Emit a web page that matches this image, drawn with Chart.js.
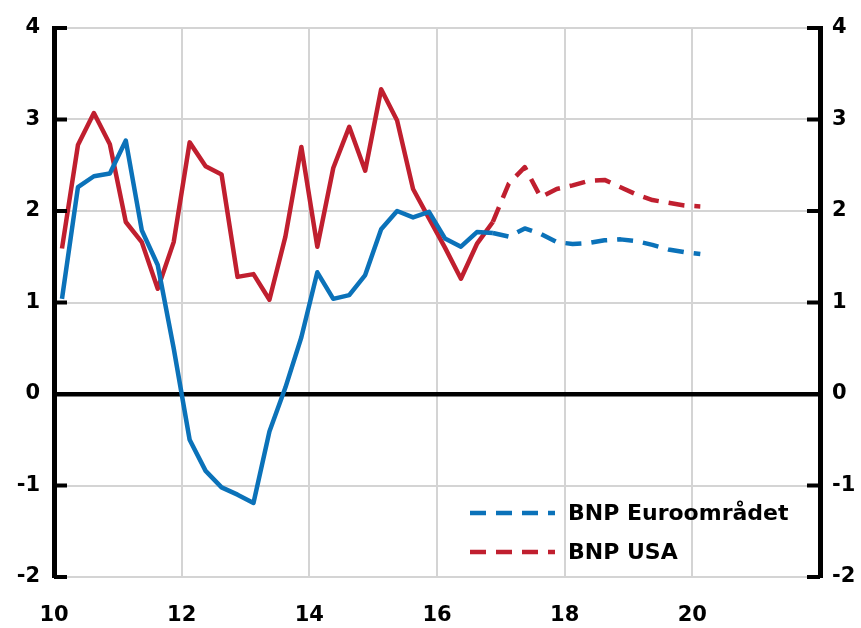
<!DOCTYPE html>
<html>
<head>
<meta charset="utf-8">
<script src="https://cdn.jsdelivr.net/npm/chart.js@4.4.1/dist/chart.umd.min.js"></script>
<style>
  html, body { margin: 0; padding: 0; background: #fff; }
  #wrap { width: 861px; height: 628px; }
</style>
</head>
<body>
<div id="wrap"><canvas id="bnp" width="861" height="628"></canvas></div>
<script>
// BNP-tillväxt per kvartal, årlig procentuell förändring.
// Heldragen linje = utfall, streckad = prognos (från 2016 K4 och framåt).

const SISTA_UTFALL = 27; // index för 2016 K4

const kvartal = [];
for (let ar = 2010; ar <= 2020; ar++) {
  for (let q = 1; q <= 4; q++) kvartal.push(ar + 'K' + q);
}
kvartal.length = 41; // 2010 K1 – 2020 K1

const euro = [1.04, 2.26, 2.38, 2.41, 2.77, 1.79, 1.41, 0.50, -0.50, -0.84, -1.02, -1.10, -1.19, -0.41, 0.07, 0.62,
  1.33, 1.04, 1.08, 1.30, 1.80, 2.00, 1.93, 1.99, 1.70, 1.61, 1.77, 1.76, 1.72, 1.81, 1.75, 1.66,
  1.64, 1.65, 1.68, 1.69, 1.67, 1.63, 1.58, 1.55, 1.53];
const usa = [1.59, 2.72, 3.07, 2.73, 1.88, 1.66, 1.15, 1.66, 2.75, 2.49, 2.40, 1.28, 1.31, 1.03, 1.72, 2.70,
  1.61, 2.47, 2.92, 2.44, 3.33, 2.99, 2.24, 1.92, 1.60, 1.26, 1.64, 1.88, 2.30, 2.48, 2.15, 2.24,
  2.28, 2.33, 2.34, 2.26, 2.18, 2.12, 2.09, 2.06, 2.05];

const serieNamn = ['BNP Euroområdet', 'BNP USA'];
const xEtiketter = ['10', '12', '14', '16', '18', '20'];
const yEtiketter = ['-2', '-1', '0', '1', '2', '3', '4'];

const BLA = '#0b72b9';
const ROD = '#c01f2f';
const GRA = '#d4d4d4';
const FONT = '"DejaVu Sans", sans-serif';
const STRECK = [16, 10];

// '2013K2' -> 13.375 (mitten av kvartalet, år räknat från 2000)
function kvartalTillX(k) {
  const ar = Number(k.slice(0, 4));
  const q = Number(k.slice(5));
  return ar - 2000 + (q - 0.5) / 4;
}

function dataset(label, varden, farg) {
  return {
    label,
    data: varden.map((v, i) => ({ x: kvartalTillX(kvartal[i]), y: v })),
    borderColor: farg,
    backgroundColor: farg,
    borderWidth: 4.5,
    borderDash: STRECK,
    borderCapStyle: 'butt',
    borderJoinStyle: 'round',
    pointRadius: 0,
    tension: 0,
    segment: { borderDash: (ctx) => (ctx.p0DataIndex < SISTA_UTFALL ? [] : undefined) },
  };
}

// Tickmarkeringar som pekar in i diagrammet på båda y-axlarna
const inatTick = {
  id: 'inatTick',
  afterDraw(chart) {
    const { ctx, chartArea: a, scales } = chart;
    ctx.save();
    ctx.strokeStyle = '#000';
    ctx.lineWidth = 4;
    scales.y.ticks.forEach((t) => {
      const py = scales.y.getPixelForValue(t.value);
      ctx.beginPath();
      ctx.moveTo(a.left, py); ctx.lineTo(a.left + 13, py);
      ctx.moveTo(a.right, py); ctx.lineTo(a.right - 13, py);
      ctx.stroke();
    });
    ctx.restore();
  },
};

// Förklaring nere till höger inne i diagrammet, streckade linjer
const forklaring = {
  id: 'forklaring',
  afterDraw(chart) {
    const { ctx, chartArea: a } = chart;
    const x0 = a.left + 416;
    ctx.save();
    chart.data.datasets.forEach((ds, i) => {
      const y = a.bottom - 64 + i * 39;
      ctx.strokeStyle = ds.borderColor;
      ctx.lineWidth = 4.5;
      ctx.lineCap = 'butt';
      ctx.setLineDash(STRECK);
      ctx.beginPath();
      ctx.moveTo(x0, y); ctx.lineTo(x0 + 85, y);
      ctx.stroke();
      ctx.setLineDash([]);
      ctx.fillStyle = '#000';
      ctx.font = 'bold 22px ' + FONT;
      ctx.textBaseline = 'middle';
      ctx.fillText(ds.label, x0 + 98, y + 1);
    });
    ctx.restore();
  },
};

const tickFont = { family: FONT, size: 21, weight: 'bold' };

new Chart(document.getElementById('bnp'), {
  type: 'line',
  data: {
    datasets: [dataset(serieNamn[0], euro, BLA), dataset(serieNamn[1], usa, ROD)],
  },
  options: {
    responsive: false,
    animation: false,
    layout: { padding: { top: 28, left: 0, right: 0, bottom: 0 } },
    plugins: { legend: { display: false }, tooltip: { enabled: false } },
    scales: {
      x: {
        type: 'linear',
        min: 10,
        max: 22,
        afterFit: (s) => { s.height = 51; },
        grid: { color: GRA, lineWidth: 2, drawTicks: false },
        border: { display: false },
        ticks: {
          stepSize: 2,
          padding: 26,
          color: '#000',
          font: tickFont,
          callback: (v) => (xEtiketter.includes(String(v)) ? String(v) : ''),
        },
      },
      y: {
        position: 'left',
        min: -2,
        max: 4,
        afterFit: (s) => { s.width = 54; },
        grid: {
          drawTicks: false,
          color: (c) => (c.tick && c.tick.value === 0 ? '#000' : GRA),
          lineWidth: (c) => (c.tick && c.tick.value === 0 ? 4.5 : 2),
        },
        border: { color: '#000', width: 5 },
        ticks: {
          stepSize: 1,
          padding: 14,
          color: '#000',
          font: tickFont,
          callback: (v) => (yEtiketter.includes(String(v)) ? String(v) : ''),
        },
      },
      y2: {
        position: 'right',
        min: -2,
        max: 4,
        afterFit: (s) => { s.width = 41; },
        grid: { drawOnChartArea: false, drawTicks: false },
        border: { color: '#000', width: 5 },
        ticks: {
          stepSize: 1,
          padding: 12,
          color: '#000',
          font: tickFont,
          callback: (v) => (yEtiketter.includes(String(v)) ? String(v) : ''),
        },
      },
    },
  },
  plugins: [inatTick, forklaring],
});
</script>
</body>
</html>
